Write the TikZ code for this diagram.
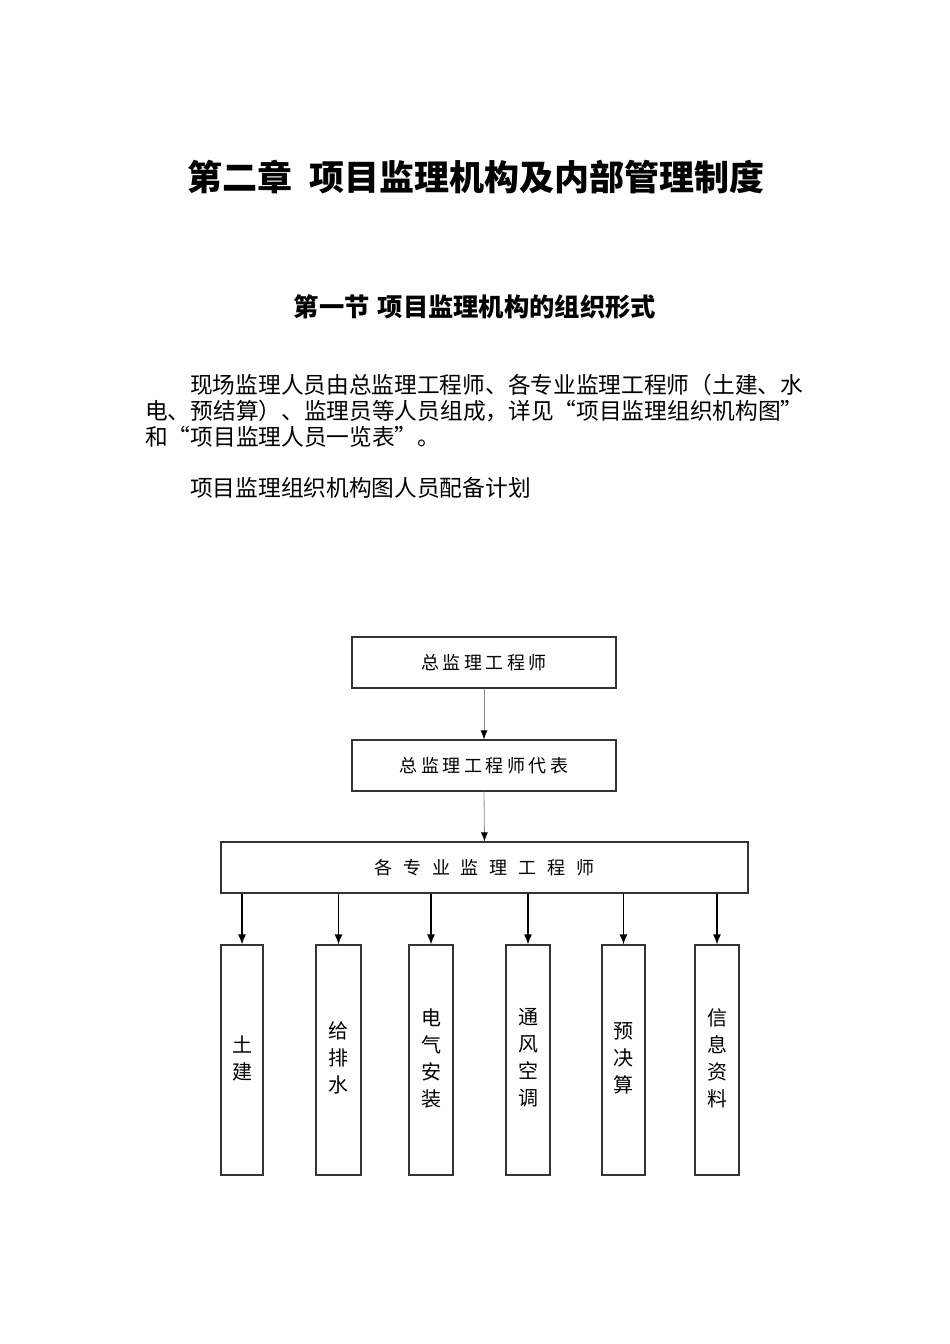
\documentclass[tikz,border=0pt]{standalone}
\usepackage{fontspec}
\usetikzlibrary{arrows.meta}
\newfontfamily\cjk{Noto Sans CJK SC}
\newcommand{\gp}[1]{\hspace{#1pt}}
\begin{document}
\begin{tikzpicture}[x=1pt,y=-1pt,
  orgbox/.style={draw=black!80, line width=1.2pt, fill=white, inner sep=0pt, align=center},
  boxtxt/.style={font=\cjk\fontsize{18}{20}\selectfont},
  coltxt/.style={font=\cjk\fontsize{20}{27}\selectfont},
  para/.style={anchor=west, inner sep=0pt, font=\cjk\fontsize{22.7}{26}\selectfont},
  greyarrow/.style={draw=black!45, line width=0.8pt, -{Latex[black,length=9pt,width=7pt]}},
  blackarrow/.style={draw=black, line width=1.2pt, -{Latex[black,length=10pt,width=8pt]}}
]
\useasboundingbox (0,0) rectangle (950,1344);
\fill[white] (0,0) rectangle (950,1344);

% headings
\node[inner sep=0pt, font=\cjk\bfseries\fontsize{35}{40}\selectfont] (title) at (476,177) {第二章\gp{18}项目监理机构及内部管理制度};
\node[inner sep=0pt, font=\cjk\bfseries\fontsize{25.3}{28}\selectfont] (sub) at (475,307) {第一节\gp{8}项目监理机构的组织形式};

% paragraph
\node[para] (p1) at (190,385) {现场监理人员由总监理工程师、各专业监理工程师（土建、水};
\node[para] (p2) at (145,411) {电、预结算）、监理员等人员组成，详见“项目监理组织机构图”};
\node[para] (p3) at (145,437) {和“项目监理人员一览表”。};
\node[para] (p4) at (190,488) {项目监理组织机构图人员配备计划};

% chart
\node[orgbox, boxtxt, minimum width=264pt, minimum height=51pt] (chief) at (484,662.5)
  {总\gp{3.5}监\gp{3.5}理\gp{3.5}工\gp{3.5}程\gp{3.5}师};
\node[orgbox, boxtxt, minimum width=264pt, minimum height=51pt] (deputy) at (484,765.5)
  {总\gp{3.5}监\gp{3.5}理\gp{3.5}工\gp{3.5}程\gp{3.5}师\gp{3.5}代\gp{3.5}表};
\node[orgbox, boxtxt, minimum width=527pt, minimum height=51pt] (spec) at (484.5,867.5)
  {各\gp{11}专\gp{11}业\gp{11}监\gp{11}理\gp{11}工\gp{11}程\gp{11}师};

\draw[greyarrow] (chief.south) -- (deputy.north);
\draw[greyarrow] (deputy.south) -- (spec.north);

\foreach \nm/\cx/\w/\txt in {
  civil/242/42/{土\\建},
  water/338.5/45/{给\\排\\水},
  elec/431/44/{电\\气\\安\\装},
  hvac/528/44/{通\\风\\空\\调},
  budget/623.5/43/{预\\决\\算},
  info/717/44/{信\\息\\资\\料}} {
  \node[orgbox, minimum width=\w pt, minimum height=230pt] (\nm) at (\cx,1060) {};
  \node[coltxt, inner sep=0pt, align=center] (\nm txt) at (\cx,1058) {\txt};
  \draw[blackarrow] (spec.south -| \nm.north) -- (\nm.north);
}
\end{tikzpicture}
\end{document}
